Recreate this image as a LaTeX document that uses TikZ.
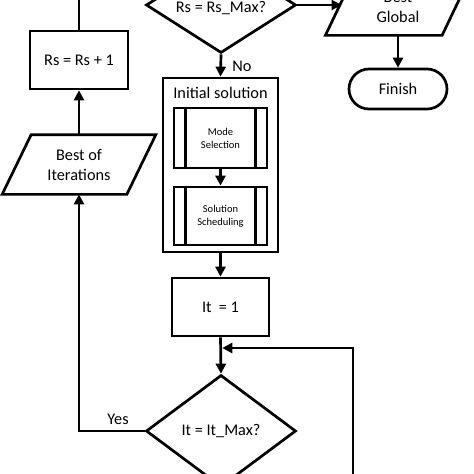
\documentclass[tikz,border=0pt]{standalone}
\usepackage{fontspec}
\setmainfont{Carlito}
\usetikzlibrary{shapes.geometric,arrows.meta}
\begin{document}
\begin{tikzpicture}[x=1pt,y=-1pt,line width=2.7pt,
  base/.style={draw, line width=2.7pt, inner sep=0pt, align=center, font=\fontsize{16.3}{20}\selectfont},
  proc/.style={base, rectangle},
  dec/.style={base, diamond},
  iobox/.style={rectangle, inner sep=0pt, align=center, font=\fontsize{16.3}{20}\selectfont},
  term/.style={base, rectangle, rounded corners=20pt},
  sub/.style={base, rectangle, font=\fontsize{10.5}{13}\selectfont},
  lbl/.style={inner sep=0pt, font=\fontsize{16.3}{20}\selectfont},
  arr/.style={-{Triangle[length=10pt,width=10pt]}}
]
\useasboundingbox (0,0) rectangle (474,474);
\fill[white] (0,0) rectangle (474,474);

% top decision
\node[dec, minimum width=150, minimum height=96] (d1) at (221,5) {};
\node[lbl] (d1t) at (221,8) {Rs = Rs\_Max?};
% best global (parallelogram)
\node[iobox, minimum width=114, minimum height=57] (bg) at (398,5.5) {};
\node[lbl, align=center] (bgt) at (398,7) {Best\\Global};
\draw ([xshift=-14.25pt]bg.south west) -- ([xshift=-14.25pt]bg.south east)
   -- ([xshift=14.25pt]bg.north east) -- ([xshift=14.25pt]bg.north west) -- cycle;
\coordinate (bgl) at (341.5,5);
\node[term, minimum width=98, minimum height=40] (fin) at (398,89) {Finish};
% left column
\node[proc, minimum width=98, minimum height=58] (rs) at (79,60) {Rs = Rs + 1};
\node[iobox, minimum width=122, minimum height=57] (bi) at (79,164.5) {Best of\\Iterations};
\draw ([xshift=-14.5pt]bi.south west) -- ([xshift=-14.5pt]bi.south east)
   -- ([xshift=14.5pt]bi.north east) -- ([xshift=14.5pt]bi.north west) -- cycle;
\coordinate (top) at (79,-10);
% initial solution
\node[proc, minimum width=115, minimum height=174] (init) at (220.5,165) {};
\node[lbl] (initt) at (220.5,93) {Initial solution};
\node[sub, minimum width=93, minimum height=60] (ms) at (220.5,138) {Mode\\Selection};
\node[sub, minimum width=93, minimum height=58] (ss) at (220.5,216) {Solution\\Scheduling};
\foreach \n in {ms,ss}{
  \draw ([xshift=13pt]\n.north west) -- ([xshift=13pt]\n.south west);
  \draw ([xshift=-13pt]\n.north east) -- ([xshift=-13pt]\n.south east);
}
\node[proc, minimum width=97, minimum height=58] (it1) at (220.5,307) {It\ \ = 1};
\node[dec, minimum width=150, minimum height=112] (d2) at (221,431) {};
\node[lbl] (d2t) at (221,431) {It = It\_Max?};
\node[lbl] (no) at (242,66) {No};
\node[lbl] (yes) at (118,419) {Yes};
\coordinate (fb) at (353,490);
\coordinate (fbc) at (353,348);

% connectors
\draw[arr] (d1.east) -- (bgl);
\draw[arr] (fin.north |- bg.south) -- (fin.north);
\draw (rs.north) -- (top);
\draw[arr] (bi.north) -- (rs.south);
\draw[arr] (d1.south) -- (init.north);
\draw[arr] (ms.south) -- (ss.north);
\draw[arr] (init.south) -- (it1.north);
\draw[arr] (it1.south) -- (d2.north);
\draw[arr, shorten >=1.3pt] (fb) -- (fbc) -- (fbc -| d2.north);
\draw[arr] (d2.west) -- (d2.west -| bi.center) -- (bi.south);
\end{tikzpicture}
\end{document}
